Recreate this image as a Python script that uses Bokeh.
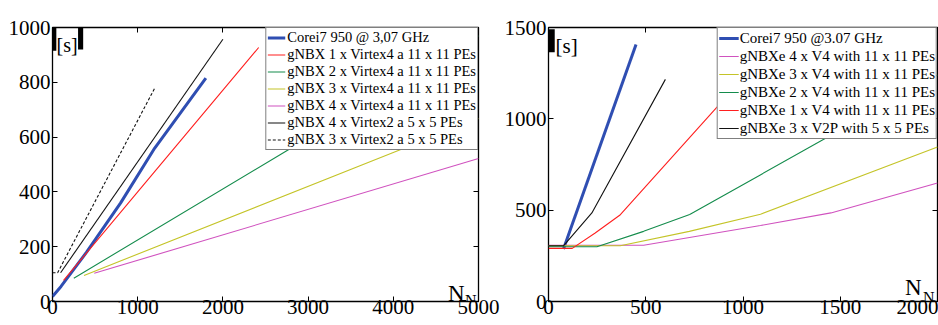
from bokeh.plotting import figure
from bokeh.layouts import row
from bokeh.models import (Range1d, LinearAxis, Legend, LegendItem, Label,
                          BoxAnnotation, FixedTicker)
from bokeh.embed import file_html
from bokeh.resources import INLINE

FONT = "Liberation Serif"

# ---------------- data: left chart ----------------
L_XTICKS = [0, 1000, 2000, 3000, 4000, 5000]
L_YTICKS = [0, 200, 400, 600, 800, 1000]

l_cpu_x = [0, 100, 400, 800, 1200, 1800]
l_cpu_y = [18, 55, 180, 360, 560, 815]
l_v4x1_x = [130, 1000, 2420]
l_v4x1_y = [77, 400, 927]
l_v4x2_x = [250, 2715, 5000]
l_v4x2_y = [85, 544, 970]
l_v4x3_x = [370, 4000, 5000]
l_v4x3_y = [95, 544, 668]
l_v4x4_x = [490, 5000]
l_v4x4_y = [103, 522]
l_v2x4_x = [95, 2000]
l_v2x4_y = [105, 957]
l_v2x3_x = [0, 60, 1200]
l_v2x3_y = [105, 105, 779]

L_LABELS = ["Corei7 950 @ 3,07 GHz",
            "gNBX 1 x Virtex4 a 11 x 11 PEs",
            "gNBX 2 x Virtex4 a 11 x 11 PEs",
            "gNBX 3 x Virtex4 a 11 x 11 PEs",
            "gNBX 4 x Virtex4 a 11 x 11 PEs",
            "gNBX 4 x Virtex2 a 5 x 5 PEs",
            "gNBX 3 x Virtex2 a 5 x 5 PEs"]

# ---------------- data: right chart ----------------
R_XTICKS = [0, 500, 1000, 1500, 2000]
R_YTICKS = [0, 500, 1000, 1500]

r_cpu_x = [77, 450]
r_cpu_y = [287, 1407]
r_v4x4_x = [0, 489, 1090, 1452, 2000]
r_v4x4_y = [308, 308, 416, 485, 649]
r_v4x3_x = [0, 369, 724, 1090, 2000]
r_v4x3_y = [305, 305, 384, 478, 846]
r_v4x2_x = [0, 249, 489, 726, 1089, 1452, 2000]
r_v4x2_y = [300, 300, 384, 476, 693, 910, 1240]
r_v4x1_x = [0, 122, 240, 366, 850, 1089]
r_v4x1_y = [291, 291, 375, 472, 1045, 1330]
r_v2p_x = [0, 77, 223, 601]
r_v2p_y = [305, 305, 485, 1216]

R_LABELS = ["Corei7 950 @3.07 GHz",
            "gNBXe 4 x V4 with 11 x 11 PEs",
            "gNBXe 3 x V4 with 11 x 11 PEs",
            "gNBXe 2 x V4 with 11 x 11 PEs",
            "gNBXe 1 x V4 with 11 x 11 PEs",
            "gNBXe 3 x V2P with 5 x 5 PEs"]

BLUE = "#2f4eb2"
RED = "#ff1f1f"
GREEN = "#148c4c"
YELLOW = "#c4c428"
MAGENTA = "#d052bf"
BLACK = "#111111"


def style(p, xticks, yticks):
    p.xgrid.visible = False
    p.ygrid.visible = False
    p.outline_line_color = "black"
    p.outline_line_width = 1.3
    p.background_fill_color = "white"
    p.border_fill_color = "white"
    p.xaxis.ticker = FixedTicker(ticks=xticks)
    p.yaxis.ticker = FixedTicker(ticks=yticks)
    for ax in (p.xaxis[0], p.yaxis[0]):
        ax.major_tick_in = 5
        ax.major_tick_out = 0
        ax.minor_tick_line_color = None
        ax.axis_line_color = None
        ax.major_tick_line_color = "black"
        ax.major_label_text_font = FONT
        ax.major_label_text_font_size = "21px"
        ax.major_label_text_color = "black"
    p.xaxis.major_label_standoff = -2
    p.yaxis.major_label_standoff = 2
    # mirrored inside ticks on the right and top edges (no labels)
    for loc, tk in (("right", yticks), ("above", xticks)):
        ax = LinearAxis(ticker=FixedTicker(ticks=tk), major_tick_in=5,
                        major_tick_out=0, axis_line_color=None,
                        minor_tick_line_color=None,
                        major_label_text_font_size="1px",
                        major_label_text_color=None,
                        major_label_standoff=0)
        p.add_layout(ax, loc)


# ---------------- left figure ----------------
pl = figure(width=500, height=325, x_range=Range1d(0, 5000), y_range=Range1d(0, 1000),
            output_backend="svg", toolbar_location=None,
            min_border_left=52, min_border_right=22, min_border_top=27, min_border_bottom=24)
style(pl, L_XTICKS, L_YTICKS)

lr = [
    pl.line(l_cpu_x, l_cpu_y, line_color=BLUE, line_width=3),
    pl.line(l_v4x1_x, l_v4x1_y, line_color=RED, line_width=1.1),
    pl.line(l_v4x2_x, l_v4x2_y, line_color=GREEN, line_width=1.1),
    pl.line(l_v4x3_x, l_v4x3_y, line_color=YELLOW, line_width=1.1),
    pl.line(l_v4x4_x, l_v4x4_y, line_color=MAGENTA, line_width=1.1),
    pl.line(l_v2x4_x, l_v2x4_y, line_color=BLACK, line_width=1.1),
    pl.line(l_v2x3_x, l_v2x3_y, line_color=BLACK, line_width=1.1, line_dash="3 2"),
]
legl = Legend(items=[LegendItem(label=t, renderers=[r]) for t, r in zip(L_LABELS, lr)],
              location="top_right", margin=0, padding=1, spacing=0,
              label_height=17, glyph_height=17, glyph_width=18, label_standoff=2,
              label_text_font=FONT, label_text_font_size="14.5px",
              label_text_color="black",
              border_line_color="black", border_line_width=1.3,
              background_fill_color="white", background_fill_alpha=1)
pl.add_layout(legl)

pl.add_layout(BoxAnnotation(left=0, right=45, bottom=915, top=1000,
                            fill_color="black", fill_alpha=1, line_color=None))
pl.add_layout(BoxAnnotation(left=300, right=360, bottom=920, top=1000,
                            fill_color="black", fill_alpha=1, line_color=None))
pl.add_layout(Label(x=0, y=1000, x_offset=4, y_offset=-6, text="[s]",
                    text_font=FONT, text_font_size="20px", text_baseline="top",
                    text_color="black"))
pl.add_layout(Label(x=5000, y=0, x_offset=-14, y_offset=8, text="N",
                    text_font=FONT, text_font_size="23px", text_align="right",
                    text_baseline="alphabetic", text_color="black"))
pl.add_layout(Label(x=5000, y=0, x_offset=-2, y_offset=1, text="N",
                    text_font=FONT, text_font_size="16px", text_align="right",
                    text_baseline="alphabetic", text_color="black"))

# ---------------- right figure ----------------
pr = figure(width=438, height=325, x_range=Range1d(0, 2000), y_range=Range1d(0, 1500),
            output_backend="svg", toolbar_location=None,
            min_border_left=48, min_border_right=1, min_border_top=17, min_border_bottom=24)
style(pr, R_XTICKS, R_YTICKS)

rr = [
    pr.line(r_cpu_x, r_cpu_y, line_color=BLUE, line_width=3),
    pr.line(r_v4x4_x, r_v4x4_y, line_color=MAGENTA, line_width=1.1),
    pr.line(r_v4x3_x, r_v4x3_y, line_color=YELLOW, line_width=1.1),
    pr.line(r_v4x2_x, r_v4x2_y, line_color=GREEN, line_width=1.1),
    pr.line(r_v4x1_x, r_v4x1_y, line_color=RED, line_width=1.1),
    pr.line(r_v2p_x, r_v2p_y, line_color=BLACK, line_width=1.1),
]
legr = Legend(items=[LegendItem(label=t, renderers=[r]) for t, r in zip(R_LABELS, rr)],
              location="top_right", margin=0, padding=1, spacing=0,
              label_height=18, glyph_height=18, glyph_width=20, label_standoff=1,
              label_text_font=FONT, label_text_font_size="15px",
              label_text_color="black",
              border_line_color="black", border_line_width=1.3,
              background_fill_color="white", background_fill_alpha=1)
pr.add_layout(legr)

pr.add_layout(BoxAnnotation(left=0, right=32, bottom=1365, top=1490,
                            fill_color="black", fill_alpha=1, line_color=None))
pr.add_layout(Label(x=0, y=1500, x_offset=7, y_offset=-6, text="[s]",
                    text_font=FONT, text_font_size="21px", text_baseline="top",
                    text_color="black"))
pr.add_layout(Label(x=2000, y=0, x_offset=-16, y_offset=14, text="N",
                    text_font=FONT, text_font_size="23px", text_align="right",
                    text_baseline="alphabetic", text_color="black"))
pr.add_layout(Label(x=2000, y=0, x_offset=-3, y_offset=4, text="N",
                    text_font=FONT, text_font_size="16px", text_align="right",
                    text_baseline="alphabetic", text_color="black"))

layout = row(pl, pr)
open("out.html", "w").write(file_html(layout, INLINE))
